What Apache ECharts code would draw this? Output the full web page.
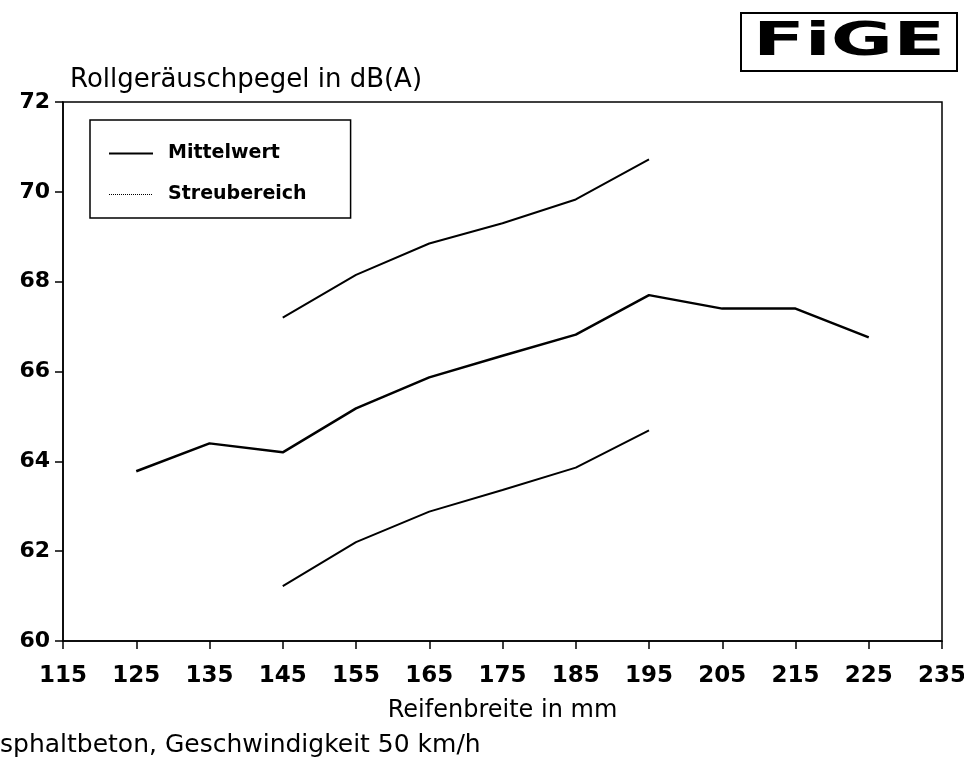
<!DOCTYPE html>
<html>
<head>
<meta charset="utf-8">
<script src="https://cdn.jsdelivr.net/npm/echarts@6/dist/echarts.min.js"></script>
<style>
  html, body { margin: 0; padding: 0; background: #fff; }
  #chart { width: 964px; height: 761px; }
</style>
</head>
<body>
<div id="chart"></div>
<script>
// Reifenbreite (mm) und Rollgeräuschpegel in dB(A)
let widths = [125, 135, 145, 155, 165, 175, 185, 195, 205, 215, 225];
let mittelwert = [63.78, 64.4, 64.2, 65.18, 65.87, 66.35, 66.82, 67.7, 67.4, 67.4, 66.76];
let streuOben = [null, null, 67.2, 68.15, 68.85, 69.3, 69.83, 70.72, null, null, null];
let streuUnten = [null, null, 61.22, 62.2, 62.88, 63.36, 63.86, 64.69, null, null, null];
let xTicks = [115, 125, 135, 145, 155, 165, 175, 185, 195, 205, 215, 225, 235];

function pairs(xs, ys) {
    let out = [];
    for (let i = 0; i < xs.length; i++) {
        if (ys[i] !== null) out.push([xs[i], ys[i]]);
    }
    return out;
}

let dom = document.getElementById('chart');
let chart = echarts.init(dom);
let font = 'DejaVu Sans';

let option = {
    backgroundColor: '#fff',
    animation: false,
    textStyle: { fontFamily: font, color: '#000' },
    grid: {
        left: 63, right: 22, top: 102, bottom: 120,
        outerBoundsMode: 'none',
        show: true, borderColor: '#000', borderWidth: 1.5
    },
    legend: {
        left: 90, top: 120,
        orient: 'vertical',
        itemWidth: 44, itemHeight: 14, itemGap: 22,
        padding: [24, 44, 14, 18],
        borderColor: '#000', borderWidth: 1.5,
        itemStyle: { opacity: 0 },
        textStyle: { fontSize: 19, fontWeight: 'bold', color: '#000', fontFamily: font, padding: [0, 0, 0, 10] },
        data: [
            { name: 'Mittelwert' },
            { name: 'Streubereich', lineStyle: { type: 'dotted', width: 1 } }
        ]
    },
    xAxis: {
        type: 'value',
        min: 115, max: 235, interval: 10,
        name: 'Reifenbreite in mm',
        nameLocation: 'middle',
        nameGap: 58,
        nameTextStyle: { fontSize: 24, color: '#000', fontFamily: font },
        axisLine: { lineStyle: { color: '#000', width: 1.5 } },
        axisTick: { inside: false, length: 8, lineStyle: { color: '#000', width: 1.5 } },
        axisLabel: {
            fontSize: 23, fontWeight: 'bold', color: '#000', margin: 24,
            customValues: xTicks
        },
        splitLine: { show: false }
    },
    yAxis: {
        type: 'value',
        min: 60, max: 72, interval: 2,
        axisLine: { show: true, lineStyle: { color: '#000', width: 1.5 } },
        axisTick: { show: true, length: 8, lineStyle: { color: '#000', width: 1.5 } },
        axisLabel: { fontSize: 22, fontWeight: 'bold', color: '#000', margin: 13 },
        splitLine: { show: false }
    },
    graphic: [
        {
            type: 'text', left: 70, top: 67,
            style: { text: 'Rollgeräuschpegel in dB(A)', fontSize: 26, fontFamily: font, fill: '#000' }
        },
        {
            type: 'text', left: 0, top: 733,
            style: { text: 'sphaltbeton, Geschwindigkeit 50 km/h', fontSize: 25, fontFamily: font, fill: '#000' }
        },
        {
            type: 'group', left: 740, top: 12,
            children: [
                { type: 'rect', shape: { x: 0, y: 0, width: 216, height: 58 },
                  style: { fill: '#fff', stroke: '#000', lineWidth: 2 } },
                { type: 'text', x: 108, y: 30, scaleX: 1.65,
                  style: { text: 'FiGE', fontSize: 46, fontWeight: 'bold', fontFamily: font,
                           fill: '#000', align: 'center', verticalAlign: 'middle' } }
            ]
        }
    ],
    series: [
        {
            name: 'Mittelwert', type: 'line', symbol: 'none',
            lineStyle: { color: '#000', width: 2.5 },
            itemStyle: { color: '#000' },
            data: pairs(widths, mittelwert)
        },
        {
            name: 'Streubereich', type: 'line', symbol: 'none',
            lineStyle: { color: '#000', width: 2 },
            itemStyle: { color: '#000' },
            data: pairs(widths, streuOben)
        },
        {
            name: 'Streubereich', type: 'line', symbol: 'none',
            lineStyle: { color: '#000', width: 2 },
            itemStyle: { color: '#000' },
            data: pairs(widths, streuUnten)
        }
    ]
};

option && chart.setOption(option);
</script>
</body>
</html>
